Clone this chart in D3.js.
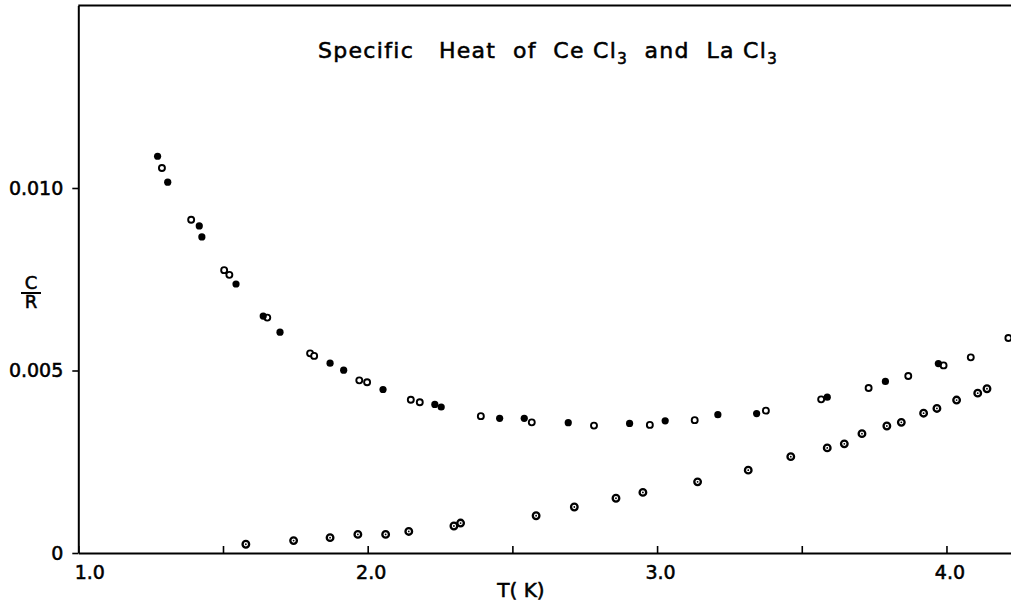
<!DOCTYPE html>
<html>
<head>
<meta charset="utf-8">
<script src="https://cdn.jsdelivr.net/npm/d3@7/dist/d3.min.js"></script>
<style>
  html, body { margin: 0; padding: 0; background: #fff; }
  svg { display: block; }
  text { font-family: "DejaVu Sans", "Liberation Sans", sans-serif; fill: #000; stroke: #000; stroke-width: 0.55px; }
</style>
</head>
<body>
<svg id="chart" width="1011" height="602"></svg>
<script>
// ---- Data (T in K, C/R) ----
// CeCl3, filled dots
const ceFilledT = [1.274, 1.309, 1.418, 1.427, 1.545, 1.639, 1.697, 1.870, 1.917, 2.053, 2.232, 2.254, 2.456, 2.541, 2.693, 2.905, 3.028, 3.210, 3.344, 3.588, 3.789, 3.972];
const ceFilledC = [0.01087, 0.01016, 0.00896, 0.00866, 0.00737, 0.00649, 0.00605, 0.00520, 0.00501, 0.00448, 0.00407, 0.00400, 0.00369, 0.00369, 0.00357, 0.00355, 0.00362, 0.00379, 0.00382, 0.00427, 0.00470, 0.00519];
// CeCl3, open circles
const ceOpenT = [1.289, 1.390, 1.504, 1.522, 1.653, 1.801, 1.815, 1.971, 1.998, 2.149, 2.180, 2.391, 2.567, 2.782, 2.975, 3.130, 3.376, 3.567, 3.731, 3.868, 3.990, 4.084, 4.214];
const ceOpenC = [0.01055, 0.00913, 0.00775, 0.00762, 0.00645, 0.00547, 0.00540, 0.00473, 0.00468, 0.00420, 0.00413, 0.00375, 0.00358, 0.00349, 0.00351, 0.00364, 0.00390, 0.00421, 0.00452, 0.00485, 0.00514, 0.00536, 0.00589];
// LaCl3, dotted circles
const laT = [1.579, 1.744, 1.870, 1.966, 2.062, 2.142, 2.298, 2.321, 2.582, 2.714, 2.858, 2.951, 3.140, 3.315, 3.462, 3.588, 3.647, 3.708, 3.794, 3.844, 3.921, 3.967, 4.035, 4.108, 4.140];
const laC = [0.00024, 0.00034, 0.00042, 0.00051, 0.00051, 0.00059, 0.00074, 0.00082, 0.00102, 0.00126, 0.00150, 0.00166, 0.00195, 0.00227, 0.00264, 0.00288, 0.00299, 0.00327, 0.00348, 0.00358, 0.00383, 0.00396, 0.00419, 0.00438, 0.00450];

const xTicks = [1.0, 1.5, 2.0, 2.5, 3.0, 3.5, 4.0];
const xTickLabels = ["1.0", "", "2.0", "", "3.0", "", "4.0"];
const yTicks = [0, 0.005, 0.010];
const yTickLabels = ["0", "0.005", "0.010"];

// ---- Layout ----
const svg = d3.select("#chart");
const x = d3.scaleLinear().domain([1.0, 4.223]).range([78.3, 1011]);
const y = d3.scaleLinear().domain([0, 0.015]).range([553, 5.5]);

// Top frame line
svg.append("line")
  .attr("x1", x.range()[0]).attr("x2", x.range()[1])
  .attr("y1", y(0.015)).attr("y2", y(0.015))
  .attr("stroke", "#000").attr("stroke-width", 2);

// X axis
const xAxis = d3.axisBottom(x)
  .tickValues(xTicks)
  .tickFormat((d, i) => xTickLabels[i])
  .tickSizeInner(-7).tickSizeOuter(0).tickPadding(13);
const gx = svg.append("g").attr("transform", `translate(0,${y(0)})`).call(xAxis);
gx.select(".domain").attr("stroke-width", 2);
gx.selectAll(".tick line").attr("stroke-width", 1.6);
gx.selectAll(".tick text").attr("font-size", 19)
  .attr("font-family", "DejaVu Sans")
  .attr("dx", (d, i) => i === 0 ? 11 : 3);

// Y axis
const yAxis = d3.axisLeft(y)
  .tickValues(yTicks)
  .tickFormat((d, i) => yTickLabels[i])
  .tickSizeInner(6).tickSizeOuter(0).tickPadding(9);
const gy = svg.append("g").attr("transform", `translate(${x(1.0)},0)`).call(yAxis);
gy.select(".domain").attr("stroke-width", 2);
gy.selectAll(".tick line").attr("stroke-width", 1.6);
gy.selectAll(".tick text").attr("font-size", 19).attr("font-family", "DejaVu Sans");

// Y label C/R
const yl = svg.append("g");
yl.append("text").attr("x", 31).attr("y", 289).attr("text-anchor", "middle").attr("font-size", 18).text("C");
yl.append("line").attr("x1", 21).attr("x2", 41).attr("y1", 293).attr("y2", 293).attr("stroke", "#000").attr("stroke-width", 2);
yl.append("text").attr("x", 31).attr("y", 308).attr("text-anchor", "middle").attr("font-size", 18).text("R");

// X label
svg.append("text").attr("x", 521).attr("y", 597).attr("text-anchor", "middle")
  .attr("font-size", 20).style("white-space", "pre").text("T( K)");

// Title
const title = svg.append("text").attr("x", 548).attr("y", 58).attr("text-anchor", "middle")
  .attr("font-size", 22).attr("letter-spacing", 1.3).style("white-space", "pre");
title.append("tspan").text("Specific   Heat  of  Ce Cl");
title.append("tspan").attr("font-size", 15).attr("dy", 6).text("3");
title.append("tspan").attr("dy", -6).text("  and  La Cl");
title.append("tspan").attr("font-size", 15).attr("dy", 6).text("3");

// ---- Points ----
const filled = ceFilledT.map((t, i) => ({t, c: ceFilledC[i]}));
const open = ceOpenT.map((t, i) => ({t, c: ceOpenC[i]}));
const la = laT.map((t, i) => ({t, c: laC[i]}));

svg.append("g").selectAll("circle").data(la).join("circle")
  .attr("cx", d => x(d.t)).attr("cy", d => y(d.c)).attr("r", 3.3)
  .attr("fill", "#fff").attr("stroke", "#000").attr("stroke-width", 2.3);
svg.append("g").selectAll("circle").data(la).join("circle")
  .attr("cx", d => x(d.t)).attr("cy", d => y(d.c)).attr("r", 0.9)
  .attr("fill", "#000");

svg.append("g").selectAll("circle").data(open).join("circle")
  .attr("cx", d => x(d.t)).attr("cy", d => y(d.c)).attr("r", 3.0)
  .attr("fill", "#fff").attr("stroke", "#000").attr("stroke-width", 1.9);

svg.append("g").selectAll("circle").data(filled).join("circle")
  .attr("cx", d => x(d.t)).attr("cy", d => y(d.c)).attr("r", 3.6)
  .attr("fill", "#000");
</script>
</body>
</html>
